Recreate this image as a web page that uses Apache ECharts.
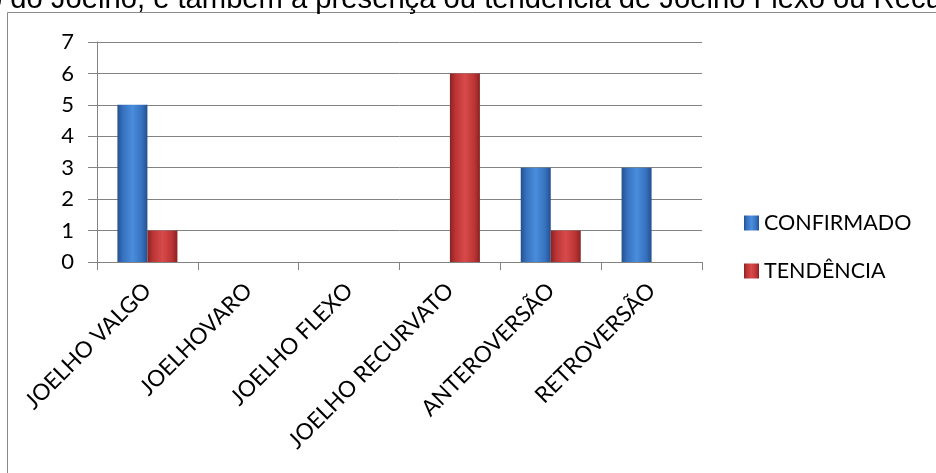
<!DOCTYPE html>
<html>
<head>
<meta charset="utf-8">
<script src="https://cdn.jsdelivr.net/npm/echarts@6/dist/echarts.min.js"></script>
<style>
  html, body { margin: 0; padding: 0; background: #ffffff; }
  #chart { width: 936px; height: 473px; }
</style>
</head>
<body>
<div id="chart"></div>
<script>
// Categories and counts per postural finding
const categories = ['JOELHO VALGO', 'JOELHOVARO', 'JOELHO FLEXO', 'JOELHO RECURVATO', 'ANTEROVERSÃO', 'RETROVERSÃO'];
const confirmado = [5, 0, 0, 0, 3, 3];
const tendencia = [1, 0, 0, 6, 1, 0];
const seriesNames = ['CONFIRMADO', 'TENDÊNCIA'];
const yTicks = [0, 1, 2, 3, 4, 5, 6, 7];
const titleText = 'o do Joelho, e também a presença ou tendência de Joelho Flexo ou Recurvato';

const labelFont = 'Lato, "Open Sans", sans-serif';
const gridGray = '#838383';

// Horizontal shading that gives the bars a rounded, bevelled look
function barShade(edge, mid, light) {
  return new echarts.graphic.LinearGradient(0, 0, 1, 0, [
    { offset: 0, color: edge },
    { offset: 0.18, color: mid },
    { offset: 0.5, color: light },
    { offset: 0.82, color: mid },
    { offset: 1, color: edge }
  ]);
}

const chart = echarts.init(document.getElementById('chart'), null, { renderer: 'canvas' });

chart.setOption({
  backgroundColor: '#ffffff',
  animation: false,
  graphic: [
    {
      type: 'rect',
      shape: { x: 7.5, y: 12.5, width: 1000, height: 600 },
      style: { fill: 'none', stroke: '#8a8a8a', lineWidth: 1 },
      z: 0
    },
    {
      // caption line running off the top edge of the page
      type: 'text',
      x: -14,
      y: 0,
      style: {
        text: titleText,
        font: '29.2px "Liberation Sans", Arial, sans-serif',
        fill: '#000000',
        verticalAlign: 'middle'
      },
      z: 10
    }
  ],
  legend: {
    orient: 'vertical',
    left: 744,
    top: 212,
    padding: 0,
    itemWidth: 15,
    itemHeight: 15,
    itemGap: 26,
    icon: 'rect',
    textStyle: { fontFamily: labelFont, fontSize: 21.5, color: '#000000' },
    data: seriesNames
  },
  grid: { left: 97, right: 234, top: 42, bottom: 211, containLabel: false },
  xAxis: {
    type: 'category',
    data: categories,
    boundaryGap: true,
    axisLine: { show: true, lineStyle: { color: gridGray, width: 1 } },
    axisTick: { show: true, length: 8, interval: 0, lineStyle: { color: gridGray } },
    axisLabel: {
      interval: 0,
      rotate: 45,
      margin: 25,
      fontFamily: labelFont,
      fontSize: 22.5,
      color: '#000000'
    },
    splitLine: { show: false }
  },
  yAxis: {
    type: 'value',
    min: yTicks[0],
    max: yTicks[yTicks.length - 1],
    interval: 1,
    axisLine: { show: true, lineStyle: { color: gridGray, width: 1 } },
    axisTick: { show: true, length: 9, lineStyle: { color: gridGray } },
    axisLabel: { margin: 23, fontFamily: labelFont, fontSize: 22, color: '#000000' },
    splitLine: { show: true, lineStyle: { color: gridGray, width: 1 } }
  },
  series: [
    {
      name: seriesNames[0],
      type: 'bar',
      data: confirmado,
      barWidth: 30,
      barGap: '0%',
      itemStyle: { color: barShade('#24508c', '#3571be', '#4a8ddc') }
    },
    {
      name: seriesNames[1],
      type: 'bar',
      data: tendencia,
      barWidth: 30,
      barGap: '0%',
      itemStyle: { color: barShade('#8a2222', '#bb3434', '#d84a4a') }
    }
  ]
});
</script>
</body>
</html>
